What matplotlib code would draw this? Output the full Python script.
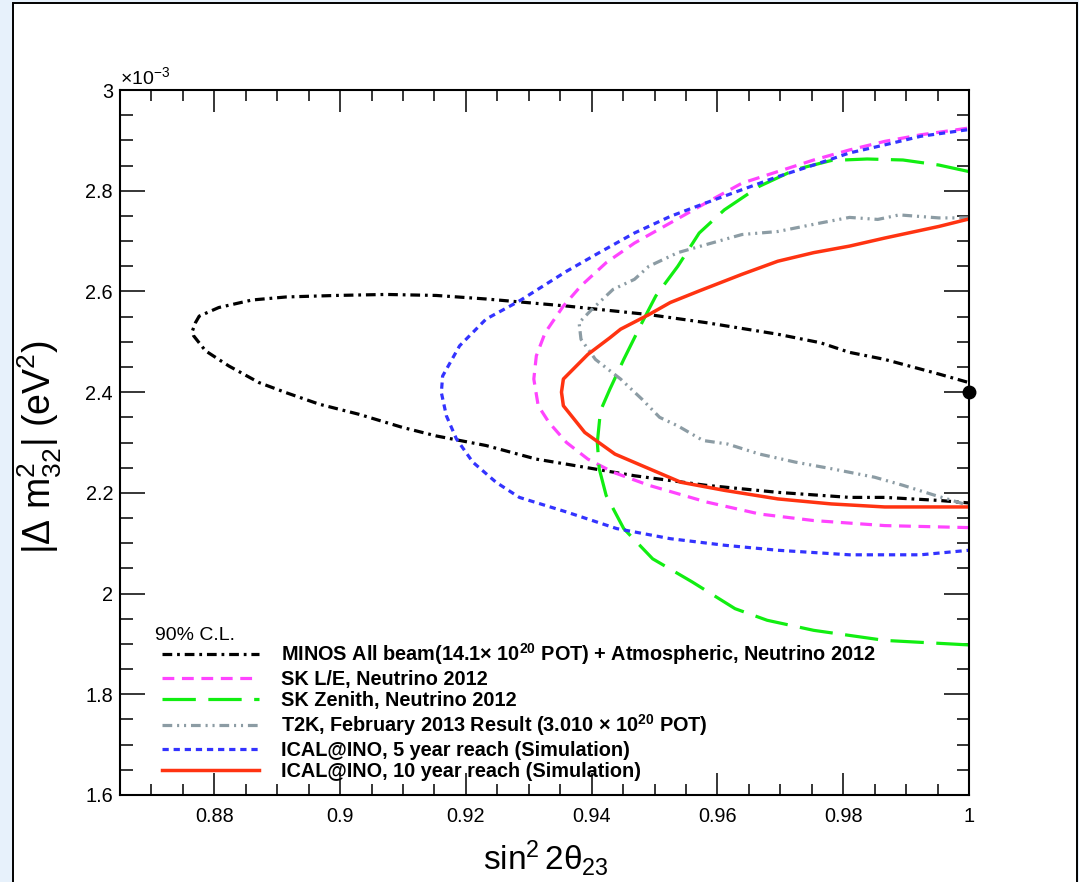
import numpy as np
import matplotlib
matplotlib.use("Agg")
import matplotlib.pyplot as plt
from matplotlib.patches import Rectangle
from matplotlib.ticker import MultipleLocator, FormatStrFormatter

plt.rcParams['font.family'] = ['Liberation Sans', 'DejaVu Sans']
plt.rcParams['mathtext.fontset'] = 'custom'
plt.rcParams['mathtext.rm'] = 'Liberation Sans'
plt.rcParams['mathtext.it'] = 'Liberation Sans:italic'
plt.rcParams['mathtext.bf'] = 'Liberation Sans:bold'
plt.rcParams['mathtext.default'] = 'regular'
plt.rcParams['lines.scale_dashes'] = False

# Contornos 90% C.L. (sin^2 2theta23, |dm2_32| en unidades de 1e-3 eV^2)
minos_x = [0.9997, 0.9952, 0.9866, 0.9810, 0.9764, 0.9696, 0.9582, 0.9491, 0.9360, 0.9232,
           0.9153, 0.9073, 0.8993, 0.8914, 0.8860, 0.8807, 0.8776, 0.8770, 0.8765, 0.8767,
           0.8786, 0.8823, 0.8871, 0.8914, 0.8967, 0.9030, 0.9099, 0.9153, 0.9232, 0.9312,
           0.9360, 0.9468, 0.9582, 0.9696, 0.9810, 0.9866, 0.9952, 1.0]
minos_y = [2.420, 2.436, 2.465, 2.479, 2.498, 2.515, 2.538, 2.554, 2.571, 2.585,
           2.592, 2.594, 2.592, 2.589, 2.583, 2.568, 2.551, 2.538, 2.521, 2.512,
           2.482, 2.452, 2.419, 2.399, 2.376, 2.356, 2.330, 2.313, 2.294, 2.267,
           2.257, 2.234, 2.215, 2.201, 2.191, 2.191, 2.185, 2.180]

sk_le_x = [0.9997, 0.9923, 0.9866, 0.9810, 0.9753, 0.9696, 0.9639, 0.9582, 0.9525, 0.9468,
           0.9423, 0.9383, 0.9355, 0.9326, 0.9312, 0.9308, 0.9315, 0.9332, 0.9360, 0.9394,
           0.9434, 0.9491, 0.9582, 0.9667, 0.9753, 0.9866, 1.0]
sk_le_y = [2.924, 2.911, 2.898, 2.881, 2.861, 2.838, 2.815, 2.776, 2.736, 2.696,
           2.657, 2.611, 2.571, 2.518, 2.472, 2.426, 2.373, 2.340, 2.300, 2.267,
           2.241, 2.215, 2.182, 2.158, 2.145, 2.135, 2.131]

sk_zen_x = [1.0, 0.9952, 0.9895, 0.9838, 0.9781, 0.9724, 0.9667, 0.9611, 0.9571, 0.9537,
            0.9502, 0.9480, 0.9451, 0.9429, 0.9414, 0.9409, 0.9412, 0.9423, 0.9451, 0.9497,
            0.9560, 0.9628, 0.9679, 0.9753, 0.9866, 1.0]
sk_zen_y = [2.838, 2.851, 2.861, 2.863, 2.860, 2.842, 2.809, 2.762, 2.716, 2.650,
            2.591, 2.538, 2.465, 2.406, 2.363, 2.300, 2.248, 2.195, 2.129, 2.069,
            2.023, 1.970, 1.947, 1.927, 1.907, 1.898]

t2k_x = [1.0, 0.9952, 0.9889, 0.9855, 0.9810, 0.9764, 0.9696, 0.9639, 0.9582, 0.9537,
         0.9491, 0.9468, 0.9434, 0.9400, 0.9380, 0.9383, 0.9406, 0.9446, 0.9480, 0.9508,
         0.9537, 0.9577, 0.9616, 0.9667, 0.9724, 0.9781, 0.9850, 0.9895, 0.9946, 1.0]
t2k_y = [2.746, 2.746, 2.752, 2.743, 2.747, 2.736, 2.719, 2.713, 2.693, 2.677,
         2.650, 2.624, 2.604, 2.564, 2.538, 2.505, 2.465, 2.426, 2.386, 2.350,
         2.333, 2.304, 2.297, 2.277, 2.261, 2.248, 2.231, 2.215, 2.195, 2.175]

ical5_x = [0.9997, 0.9923, 0.9866, 0.9810, 0.9753, 0.9696, 0.9639, 0.9582, 0.9525, 0.9468,
           0.9412, 0.9360, 0.9285, 0.9232, 0.9190, 0.9163, 0.9161, 0.9169, 0.9185, 0.9211,
           0.9248, 0.9285, 0.9360, 0.9440, 0.9525, 0.9611, 0.9696, 0.9810, 0.9923, 1.0]
ical5_y = [2.921, 2.908, 2.891, 2.875, 2.851, 2.828, 2.802, 2.776, 2.749, 2.716,
           2.677, 2.640, 2.581, 2.545, 2.492, 2.432, 2.399, 2.353, 2.307, 2.261,
           2.221, 2.191, 2.162, 2.129, 2.109, 2.096, 2.086, 2.077, 2.077, 2.086]

ical10_x = [0.9997, 0.9952, 0.9866, 0.9810, 0.9753, 0.9696, 0.9639, 0.9571, 0.9525, 0.9491,
            0.9446, 0.9429, 0.9394, 0.9355, 0.9352, 0.9355, 0.9389, 0.9437, 0.9480, 0.9542,
            0.9611, 0.9696, 0.9781, 0.9866, 1.0]
ical10_y = [2.743, 2.729, 2.706, 2.690, 2.677, 2.660, 2.634, 2.601, 2.578, 2.554,
            2.525, 2.508, 2.475, 2.426, 2.400, 2.373, 2.320, 2.277, 2.254, 2.221,
            2.205, 2.188, 2.178, 2.172, 2.172]

# Punto de mejor ajuste
best_x = [1.0]
best_y = [2.4]

etiquetas = [
    "MINOS All beam(14.1× 10$^{\\mathbf{20}}$ POT) + Atmospheric, Neutrino 2012",
    "SK L/E, Neutrino 2012",
    "SK Zenith, Neutrino 2012",
    "T2K, February 2013 Result (3.010 × 10$^{\\mathbf{20}}$ POT)",
    "ICAL@INO, 5 year reach (Simulation)",
    "ICAL@INO, 10 year reach (Simulation)",
]

W, H = 1079, 882
fig = plt.figure(figsize=(W / 100, H / 100), dpi=100, facecolor='#e7f1fb')
fig.patches.append(Rectangle((13 / W, -0.02), (1077 - 13) / W, 1 - 3 / H + 0.02,
                             transform=fig.transFigure, facecolor='white',
                             edgecolor='black', lw=1.4, zorder=-5))

ax = fig.add_axes([120 / W, 1 - 795 / H, (969 - 120) / W, (795 - 90) / H])
ax.patch.set_alpha(0)

lw = 2.3
ax.plot(minos_x, minos_y, color='black', lw=lw, dashes=(7, 3.5, 2, 3.5), label=etiquetas[0])
ax.plot(sk_le_x, sk_le_y, color='#ff44ff', lw=lw, dashes=(8.5, 5.5), label=etiquetas[1])
ax.plot(sk_zen_x, sk_zen_y, color='#11ee11', lw=lw, dashes=(24, 9), label=etiquetas[2])
ax.plot(t2k_x, t2k_y, color='#8c9ca4', lw=lw, dashes=(7, 3.5, 1.5, 3.5, 1.5, 3.5), label=etiquetas[3])
ax.plot(ical5_x, ical5_y, color='#3333ff', lw=lw, dashes=(4.5, 3.5), label=etiquetas[4])
ax.plot(ical10_x, ical10_y, color='#ff3311', lw=2.5, label=etiquetas[5])
ax.plot(best_x, best_y, 'o', color='black', ms=9, clip_on=False, zorder=5)

ax.set_xlim(0.865, 1.0)
ax.set_ylim(1.6, 3.0)
ax.xaxis.set_major_locator(MultipleLocator(0.02))
ax.xaxis.set_minor_locator(MultipleLocator(0.005))
ax.yaxis.set_major_locator(MultipleLocator(0.2))
ax.yaxis.set_minor_locator(MultipleLocator(0.05))
ax.xaxis.set_major_formatter(FormatStrFormatter('%g'))
ax.yaxis.set_major_formatter(FormatStrFormatter('%g'))

for s in ax.spines.values():
    s.set_linewidth(1.5)
ax.tick_params(which='both', direction='in', top=True, right=True, width=1.1, labelsize=14.3)
ax.tick_params(axis='x', which='major', length=16, pad=9)
ax.tick_params(axis='x', which='minor', length=8)
ax.tick_params(axis='y', which='major', length=18, pad=5)
ax.tick_params(axis='y', which='minor', length=9)

ax.text(0.0, 1.003, r"$\times$10$^{-3}$", transform=ax.transAxes, fontsize=14,
        ha='left', va='bottom')

fig.text(40 / W, 1 - 447 / H, r"|$\Delta$ m$^{2}_{32}$| (eV$^{2}$)", rotation=90,
         fontsize=27, ha='center', va='center')
fig.text(546 / W, 1 - 858 / H, r"sin$^{2}\,$2$\theta_{23}$", fontsize=24,
         ha='center', va='center')

ax.text((155 - 120) / 849, (795 - 635) / 705, "90% C.L.", transform=ax.transAxes,
        fontsize=14, ha='left', va='center')
leg = ax.legend(loc='lower left', bbox_to_anchor=((162 - 120) / 849, (795 - 781) / 705),
                frameon=False, prop={'weight': 'bold', 'size': 14.3},
                handlelength=4.9, handletextpad=1.1,
                labelspacing=0.12, borderpad=0, borderaxespad=0)

fig.savefig("out.png", dpi=100, facecolor=fig.get_facecolor())
